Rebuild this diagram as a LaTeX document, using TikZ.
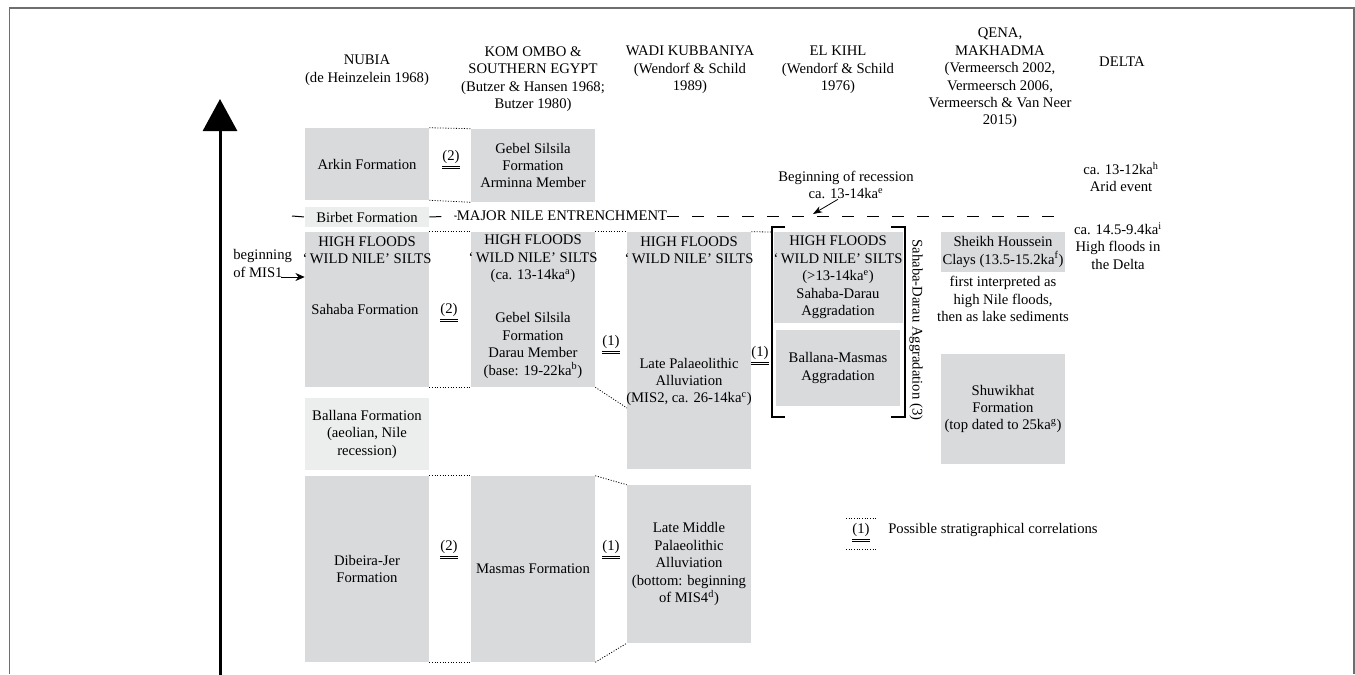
\documentclass[tikz,border=0pt]{standalone}
\usepackage{fontspec}
\setmainfont{Liberation Serif}
\usetikzlibrary{arrows.meta}
\definecolor{strata}{HTML}{D9DADC}
\definecolor{stratapale}{HTML}{ECEDED}
\definecolor{framegray}{HTML}{6E6E6E}
\newcommand{\corrno}[1]{$\underline{\underline{\mbox{(#1)}}}$}
\begin{document}
\begin{tikzpicture}[x=0.75pt, y=-0.75pt,
		font=\fontsize{11}{13.1}\selectfont,
		every node/.style={align=center, inner sep=0pt},
		layer/.style={fill=strata, minimum width=93pt},
		layerpale/.style={fill=stratapale, minimum width=93pt},
		correl/.style={dash pattern=on 0.8pt off 1.2pt, line width=0.6pt},
		entrench/.style={dash pattern=on 9pt off 9.75pt, line width=0.75pt},
		bracket/.style={line width=1.1pt}
		]
	\useasboundingbox (0,0) rectangle (1355,674);
	\draw[framegray, line width=1.1pt] (9.5,674) -- (9.5,8) -- (1354,8) -- (1354,674);
	% time axis
	\coordinate (tbot) at (220,680);
	\coordinate (ttop) at (220,99);
	\draw[line width=2.25pt, -{Triangle[width=25.5pt, length=24pt]}] (tbot) -- (ttop);
	% column heads
	\node (nubia) at (367,70) {NUBIA\\(de Heinzelein 1968)};
	\node (komombo) at (533,79) {KOM OMBO \&\\SOUTHERN EGYPT\\(Butzer \& Hansen 1968;\\Butzer 1980)};
	\node (kubbaniya) at (690,70) {WADI KUBBANIYA\\(Wendorf \& Schild\\1989)};
	\node (elkihl) at (838,70) {EL KIHL\\(Wendorf \& Schild\\1976)};
	\node (qena) at (1000,78) {QENA,\\MAKHADMA\\(Vermeersch 2002,\\Vermeersch 2006,\\Vermeersch \& Van Neer\\2015)};
	\node (delta) at (1122,62) {DELTA};
	% top row
	\node[layer, minimum height=54pt] (arkin) at (367,164) {Arkin Formation};
	\node[layer, minimum height=54.75pt] (arminna) at (533,165.5) {Gebel Silsila\\Formation\\Arminna Member};
	\node (corrA) at (451,160) {\corrno{2}};
	\draw[correl] (arkin.north east) -- (arminna.north west);
	\draw[correl] (arkin.south east) -- (arminna.south west);
	% entrenchment
	\node[layerpale, minimum height=15pt] (birbet) at (367,217) {Birbet Formation};
	\node (entrenchment) at (562,216) {MAJOR NILE ENTRENCHMENT};
	\coordinate (dashL) at (292,216);
	\coordinate (dashR) at (1063,216);
	\draw[entrench] (dashL) -- (birbet.west);
	\draw[entrench] (birbet.east) -- (entrenchment.west);
	\draw[entrench] (entrenchment.east) -- (dashR);
	\node (recess) at (846,185) {Beginning of recession\\ca. 13-14ka\textsuperscript{e}};
	\coordinate (recessend) at (813,214);
	\draw[line width=0.6pt, -{Stealth[length=7pt, width=5pt]}] ([xshift=-6pt]recess.south) -- (recessend);
	% high floods
	\node[layer, minimum height=116.25pt] (sahaba) at (367,309.5) {};
	\node (sahabatop) at (367,250.5) {HIGH FLOODS\\‘\,WILD NILE’ SILTS};
	\node (sahabaname) at (365,309) {Sahaba Formation};
	\node[align=left, anchor=west] (mis1) at (233,263.5) {beginning\\of MIS1};
	\coordinate (mis1start) at (281,277);
	\draw[line width=0.6pt, -{Stealth[length=7pt, width=6pt]}] (mis1start) -- (sahaba.west |- mis1start);
	\node[layer, minimum height=116.25pt] (darau) at (533,309.5) {};
	\node (darautop) at (533,259) {HIGH FLOODS\\‘\,WILD NILE’ SILTS\\(ca. 13-14ka\textsuperscript{a})};
	\node (darauname) at (533,345.5) {Gebel Silsila\\Formation\\Darau Member\\(base: 19-22ka\textsuperscript{b})};
	\node (corrB) at (449,313) {\corrno{2}};
	\draw[correl] (sahaba.north east) -- (darau.north west);
	\draw[correl] (sahaba.south east) -- (darau.south west);
	\node[layer, minimum height=177.75pt] (latepal) at (689,350.5) {};
	\node (latepaltop) at (689,250.5) {HIGH FLOODS\\‘\,WILD NILE’ SILTS};
	\node (latepalname) at (689,382) {Late Palaeolithic\\Alluviation\\(MIS2, ca. 26-14ka\textsuperscript{c})};
	\node (corrC) at (611,345) {\corrno{1}};
	\coordinate (latepalmid) at (627,408);
	\draw[correl] (darau.north east) -- (latepal.north west);
	\draw[correl] (darau.south east) -- (latepalmid);
	% el kihl
	\node[layer, minimum height=68.25pt] (sdagg) at (838,277.5) {HIGH FLOODS\\‘\,WILD NILE’ SILTS\\(>13-14ka\textsuperscript{e})\\Sahaba-Darau\\Aggradation};
	\node[layer, minimum height=57pt] (bmagg) at (838,368) {Ballana-Masmas\\Aggradation};
	\draw[bracket] (785,227) -| (772,417) -- (785,417);
	\draw[bracket] (891,227) -| (905,417) -- (891,417);
	\node[rotate=-90] (sdlabel) at (916,330) {Sahaba-Darau Aggradation (3)};
	\node (corrD) at (760,356) {\corrno{1}};
	\coordinate (bracketL) at (772,232);
	\draw[correl] (latepal.north east) -- (bracketL);
	% qena
	\node[layer, minimum height=30pt] (sheikh) at (1003,252) {Sheikh Houssein\\Clays (13.5-15.2ka\textsuperscript{f})};
	\node (sheikhnote) at (1003,299) {first interpreted as\\high Nile floods,\\then as lake sediments};
	\node[layer, minimum height=82.5pt] (shuwikhat) at (1003,409) {Shuwikhat\\Formation\\(top dated to 25ka\textsuperscript{g})};
	% delta
	\node (arid) at (1121,177) {ca. 13-12ka\textsuperscript{h}\\Arid event};
	\node (deltafloods) at (1118,246) {ca. 14.5-9.4ka\textsuperscript{i}\\High floods in\\the Delta};
	% lower rows
	\node[layerpale, minimum height=54pt] (ballana) at (367,434) {Ballana Formation\\(aeolian, Nile\\recession)};
	\node[layer, minimum height=139.5pt] (dibeira) at (367,569) {Dibeira-Jer\\Formation};
	\node[layer, minimum height=139.5pt] (masmas) at (533,569) {Masmas Formation};
	\node[layer, minimum height=118.5pt] (lmp) at (689,564) {Late Middle\\Palaeolithic\\Alluviation\\(bottom: beginning\\of MIS4\textsuperscript{d})};
	\node (corrE) at (449,550) {\corrno{2}};
	\node (corrF) at (611,550) {\corrno{1}};
	\draw[correl] (dibeira.north east) -- (masmas.north west);
	\draw[correl] (dibeira.south east) -- (masmas.south west);
	\draw[correl] (masmas.north east) -- (lmp.north west);
	\draw[correl] (masmas.south east) -- (lmp.south west);
	% legend
	\node (legnum) at (861,533) {\corrno{1}};
	\node[anchor=west] (legtext) at (888,530) {Possible stratigraphical correlations};
	\draw[correl] (846,518) -- (877,518);
	\draw[correl] (846,549) -- (877,549);
\end{tikzpicture}
\end{document}
